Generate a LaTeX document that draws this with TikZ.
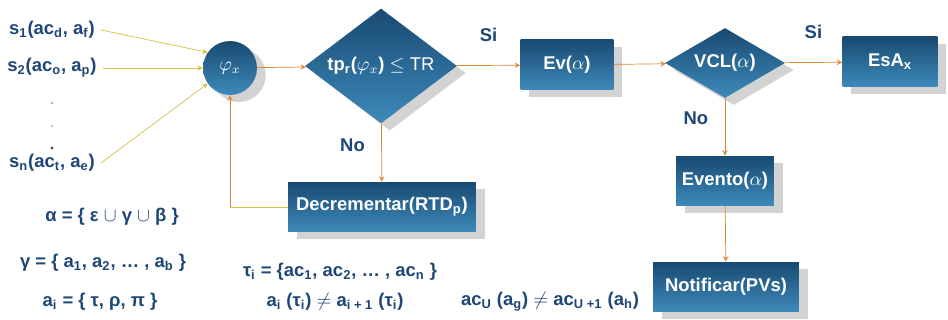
\documentclass[tikz,border=0pt]{standalone}
\usepackage{fontspec}
\setmainfont{Liberation Sans}
\usetikzlibrary{shapes.geometric, shadows}

\definecolor{boxtop}{RGB}{24,74,114}
\definecolor{boxbot}{RGB}{62,138,186}
\definecolor{navy}{RGB}{30,70,118}
\definecolor{flowline}{RGB}{222,132,52}
\definecolor{inline}{RGB}{214,192,62}

\begin{document}
\begin{tikzpicture}[x=0.02cm, y=-0.02cm, >=stealth]
    \useasboundingbox (0,0) rectangle (948,320);
    \tikzset{
        every node/.style = {font=\bfseries\fontsize{10.5}{12}\selectfont},
        lbl/.style = {text=navy},
        look/.style = {top color=boxtop, bottom color=boxbot, text=white,
            drop shadow={shadow xshift=5pt, shadow yshift=-4pt, opacity=0.35}},
        proc/.style = {look, rectangle, minimum height=1cm},
        cond/.style = {look, diamond, inner sep=0pt},
        blob/.style = {look, circle, minimum size=1.08cm, inner sep=0pt}
    }

        \node[lbl] (s1) at (52,30) {s\textsubscript{1}(ac\textsubscript{d}, a\textsubscript{f})};
        \node[lbl] (s2) at (52,68) {s\textsubscript{2}(ac\textsubscript{o}, a\textsubscript{p})};
        \node[lbl] (sn) at (52,163) {s\textsubscript{n}(ac\textsubscript{t}, a\textsubscript{e})};
        \node[blob] (phi) at (230,68) {$\varphi_x$};
        \node[cond, aspect=1.32, minimum width=3.04cm, minimum height=2.3cm] (tp) at (381,66) {tp\textsubscript{r}($\varphi_x$) $\leq \mathrm{TR}$};
        \node[proc, minimum width=1.86cm] (ev) at (567,65) {Ev($\alpha$)};
        \node[cond, aspect=1.7, minimum width=2.4cm, minimum height=1.4cm] (vcl) at (725,63) {VCL($\alpha$)};
        \node[proc, minimum width=1.9cm] (esa) at (890,62) {EsA\textsubscript{x}};
        \node[proc, minimum width=1.9cm] (evento) at (725,181) {Evento($\alpha$)};
        \node[proc, minimum width=2.92cm] (notif) at (726,287) {Notificar(PVs)};
        \node[proc, minimum width=3.76cm] (dec) at (382,207) {Decrementar(RTD\textsubscript{p})};
        \coordinate (back) at (230,207);

        \node[lbl] (alpha) at (112,217) {α = \{ ε $\cup$ γ $\cup$ β \}};
        \node[lbl] (gamma) at (103,263) {γ = \{ a\textsubscript{1}, a\textsubscript{2}, … , a\textsubscript{b} \}};
        \node[lbl] (ai) at (100,302) {a\textsubscript{i} = \{ τ, ρ, π \}};
        \node[lbl] (tau) at (340,272) {τ\textsubscript{i} = \{ac\textsubscript{1}, ac\textsubscript{2}, … , ac\textsubscript{n} \}};
        \node[lbl] (ne1) at (335,302) {a\textsubscript{i} (τ\textsubscript{i}) $\neq$ a\textsubscript{i + 1} (τ\textsubscript{i})};
        \node[lbl] (ne2) at (550,302) {ac\textsubscript{U} (a\textsubscript{g}) $\neq$ ac\textsubscript{U +1} (a\textsubscript{h})};

        % dots between s2 and sn
        \fill[gray!60] (52,103) circle (0.8pt);
        \fill[gray!50] (52,126) circle (0.8pt);
        \fill[black!70] (52,148) circle (0.9pt);

        \draw[inline] (s1.east) edge[->] (phi.145);
        \draw[inline] (s2.east) edge[->] (phi.west);
        \draw[inline] (sn.east) edge[->] (phi.215);
        \draw[flowline] (phi) edge[->] (tp);
        \draw[flowline] (tp) edge[->] node[lbl, above=10pt, midway] {Si} (ev);
        \draw[flowline] (tp) edge[->] node[lbl, left=6pt, pos=0.38] {No} (dec);
        \draw[flowline] (ev) edge[->] (vcl);
        \draw[flowline] (vcl) edge[->] node[lbl, above=10pt, midway] {Si} (esa);
        \draw[flowline] (vcl) edge[->] node[lbl, left=6pt, pos=0.35] {No} (evento);
        \draw[flowline] (evento) edge[->] (notif);
        \draw[inline] (dec) -- (back);
        \draw[flowline] (back) edge[->] (phi);

    \end{tikzpicture}
\end{document}
